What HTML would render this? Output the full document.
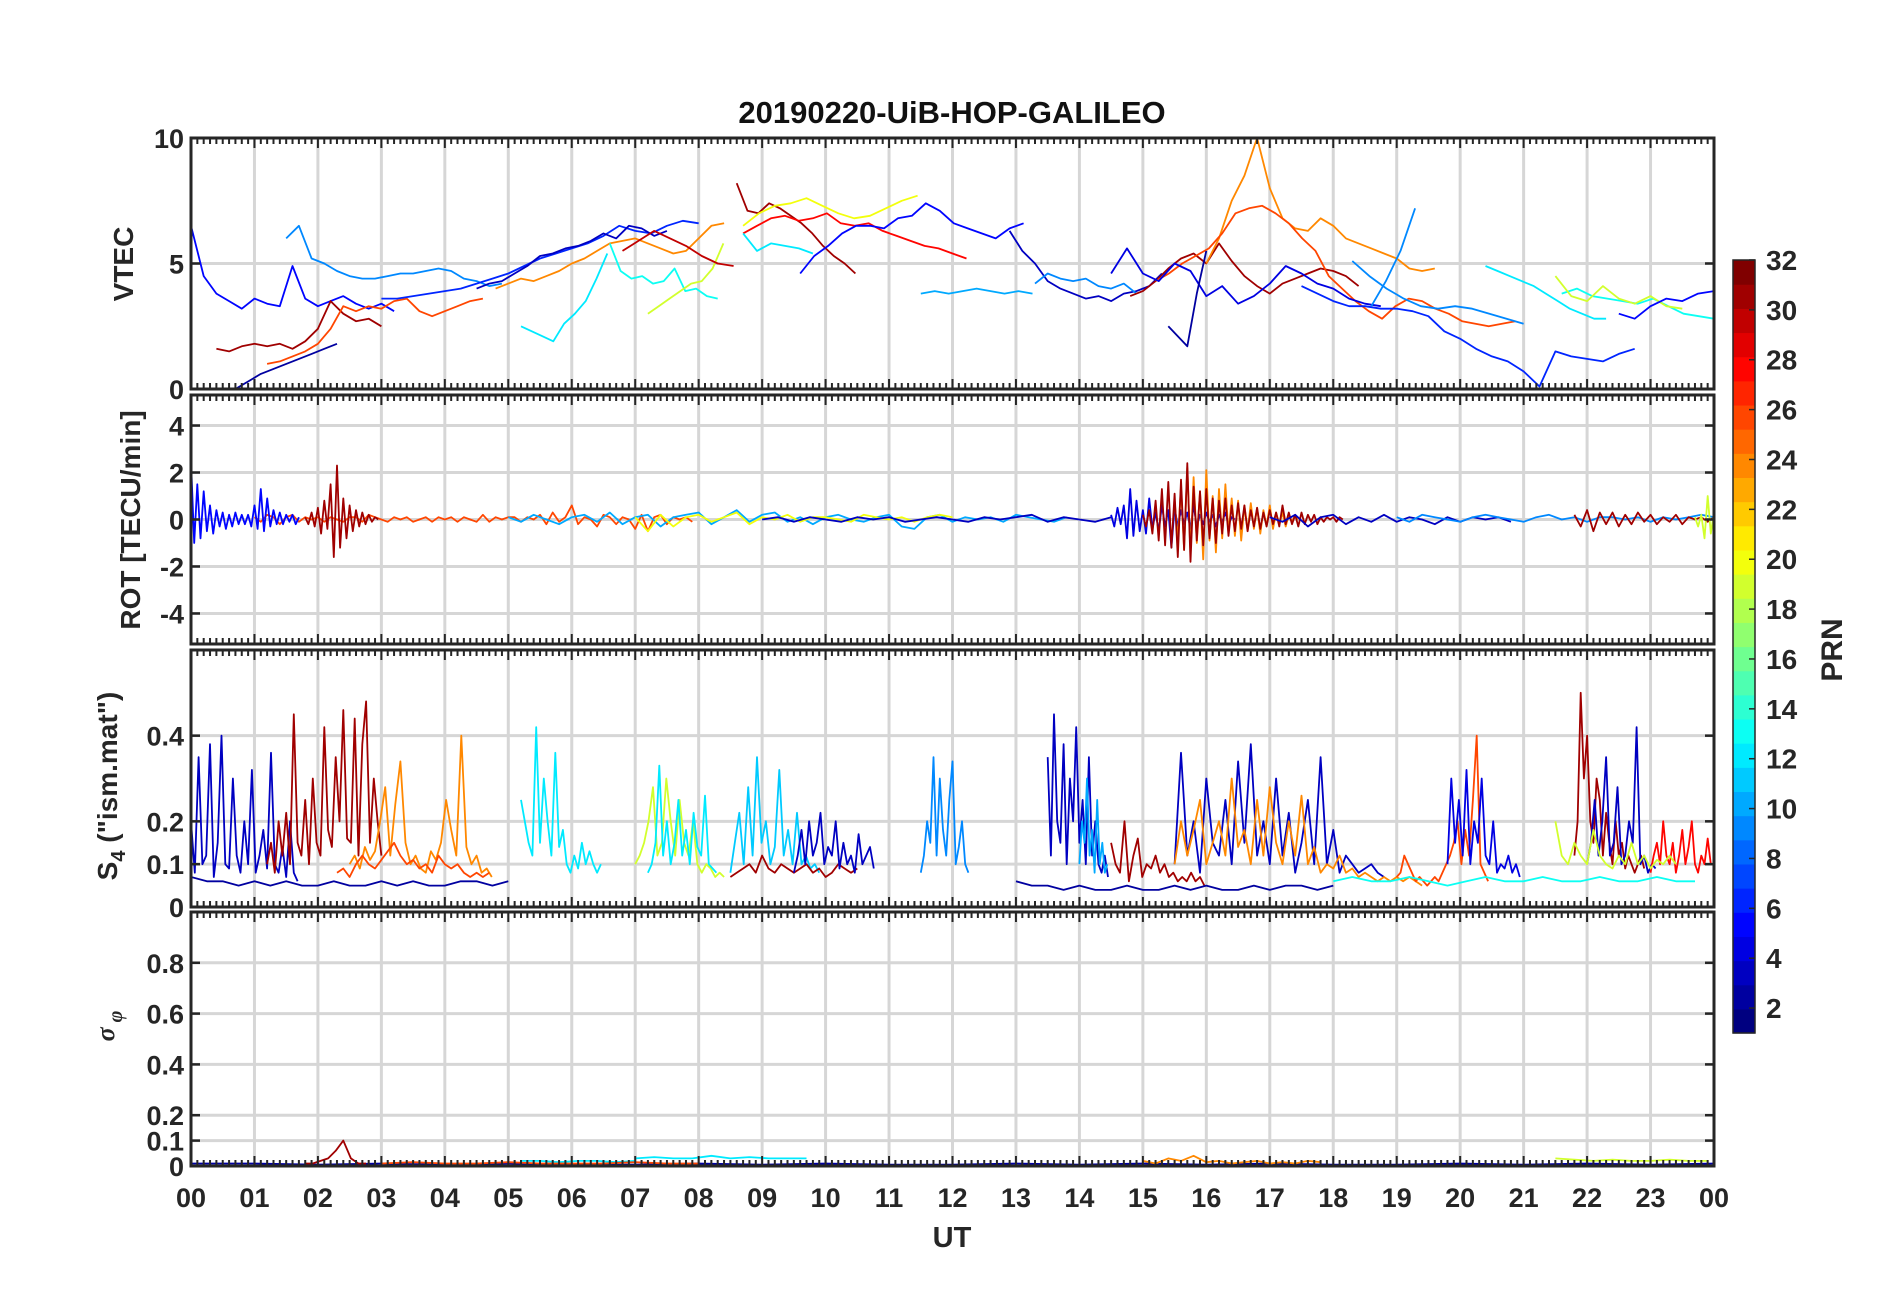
<!DOCTYPE html>
<html><head><meta charset="utf-8"><style>
body{margin:0;background:#fff}
svg text{font-family:"Liberation Sans",Arial,sans-serif;font-weight:bold;fill:#262626}
</style></head><body>
<svg id="fig" width="1902" height="1292" viewBox="0 0 1902 1292" xmlns="http://www.w3.org/2000/svg">
<rect width="1902" height="1292" fill="#fff"/>
<g id="grids"></g><g id="series"></g><g id="frames"></g><g id="labels"></g><g id="cbar"></g>
</svg>
<script>
// ---------- data ----------
const hourTicks=["00","01","02","03","04","05","06","07","08","09","10","11","12","13","14","15","16","17","18","19","20","21","22","23","00"];
const cbarTicks=[2,4,6,8,10,12,14,16,18,20,22,24,26,28,30,32];
const vtecTicks=[0,5,10];
const rotTicks=[-4,-2,0,2,4];
const s4Ticks=[0,0.1,0.2,0.4];
const sigTicks=[0,0.1,0.2,0.4,0.6,0.8];

const vtecPrn=[5,2,9,31,26,6,3,24,12,13,19,30,31,28,20,12,5,3,10,9,31,24,26,4,2,6,9,9,12,13,19,5];
const vtecStart=[0,0.7,1.5,0.4,1.2,3,4.5,4.8,5.2,6.6,7.2,6.8,8.6,8.7,8.7,8.7,9.6,12.9,11.5,13.3,14.8,16,15.2,14.5,15.4,17.5,18.6,18.3,20.4,21.6,21.5,22.5];
const vtecStep=[0.2,0.2,0.2,0.2,0.2,0.25,0.2,0.2,0.17,0.17,0.17,0.25,0.17,0.22,0.25,0.22,0.22,0.2,0.22,0.2,0.2,0.2,0.21,0.25,0.15,0.25,0.23,0.27,0.19,0.24,0.25,0.25];
const vtecVals=[
[6.5,4.5,3.8,3.5,3.2,3.6,3.4,3.3,4.9,3.6,3.3,3.5,3.7,3.4,3.2,3.4,3.1],
[0,0.3,0.6,0.8,1,1.2,1.4,1.6,1.8],
[6,6.5,5.2,5,4.7,4.5,4.4,4.4,4.5,4.6,4.6,4.7,4.8,4.7,4.4,4.3,4.1,4.2],
[1.6,1.5,1.7,1.8,1.7,1.8,1.6,1.9,2.4,3.5,3,2.7,2.8,2.5],
[1,1.1,1.3,1.5,1.8,2.4,3.3,3.1,3.3,3.2,3.5,3.6,3.1,2.9,3.1,3.3,3.5,3.6],
[3.6,3.6,3.7,3.8,3.9,4,4.2,4.4,4.6,4.9,5.2,5.4,5.6,5.8,6.1,6.5,6.3,6.2,6.5,6.7,6.6],
[4,4.2,4.3,4.6,4.9,5.3,5.4,5.6,5.7,5.9,6.2,6.0,6.5,6.4,6.1,6.3],
[4.0,4.2,4.4,4.3,4.5,4.7,5.0,5.2,5.5,5.8,5.9,6.0,5.8,5.6,5.4,5.5,6,6.5,6.6],
[2.5,2.3,2.1,1.9,2.6,3.0,3.5,4.4,5.4],
[5.8,4.7,4.4,4.5,4.2,4.3,4.8,3.9,4.0,3.7,3.6],
[3,3.3,3.6,3.9,4.2,4.3,4.8,5.8],
[5.5,5.9,6.3,6.0,5.7,5.3,5.0,4.9],
[8.2,7.1,7.0,7.4,7.2,6.9,6.6,6.2,5.7,5.3,5.0,4.6],
[6.2,6.5,6.8,6.9,6.7,6.8,7.0,6.6,6.5,6.6,6.3,6.1,5.9,5.7,5.6,5.4,5.2],
[6.5,7.0,7.3,7.4,7.6,7.3,7.0,6.8,6.9,7.2,7.5,7.7],
[6.2,5.5,5.8,5.7,5.6,5.4],
[4.6,5.3,5.7,6.2,6.5,6.5,6.4,6.8,6.9,7.4,7.1,6.6,6.4,6.2,6.0,6.4,6.6],
[6.3,5.5,5.0,4.3,4.0,3.8,3.6,3.7,3.5,3.8,3.9,4.1,4.6],
[3.8,3.9,3.8,3.9,4.0,3.9,3.8,3.9,3.8],
[4.2,4.6,4.4,4.3,4.4,4.1,4.0,4.2,3.8],
[3.7,3.9,4.3,4.8,5.2,5.4,5.0,5.8,5.1,4.5,4.1,3.8,4.2,4.4,4.6,4.8,4.7,4.5,4.1],
[5.0,6.0,7.5,8.5,10,8,6.8,6.4,6.3,6.8,6.5,6.0,5.8,5.6,5.4,5.2,4.8,4.7,4.8],
[4.3,4.6,5.0,5.3,5.6,6.2,7.0,7.2,7.3,7.0,6.6,6.0,5.5,4.5,4.0,3.5,3.1,2.8,3.3,3.6,3.5,3.2,3.0,2.7,2.6,2.5,2.6,2.7],
[4.6,5.6,4.6,4.3,5.0,4.7,3.7,4.1,3.4,3.7,4.2,4.9,4.6,4.2,4.0,3.6,3.4,3.3],
[2.5,2.1,1.7,3.8,5.5],
[4.1,3.8,3.5,3.3,3.3,3.2,3.2,3.1,2.9,2.3,2.0,1.6,1.3,1.1,0.7,0.1,1.5,1.3,1.2,1.1,1.4,1.6],
[3.3,4.3,5.5,7.2],
[5.1,4.5,4.0,3.6,3.3,3.2,3.3,3.2,3.0,2.8,2.6],
[4.9,4.7,4.5,4.3,4.1,3.8,3.5,3.2,3.0,2.8,2.8],
[3.8,4.0,3.7,3.6,3.5,3.4,3.6,3.3,3.0,2.9,2.8],
[4.5,3.7,3.5,4.1,3.6,3.4,3.7,3.3,3.2],
[3.0,2.8,3.3,3.6,3.5,3.8,3.9]];

const rotPrn=[26,10,20,3,5,31,4,24,31,3,9,31,19];
const rotStart=[1,5,7,9,0,1.8,14.5,15.5,15,17,19,21.8,23.7];
const rotStep=[0.1,0.2,0.2,0.25,0.05,0.05,0.05,0.05,0.05,0.2,0.2,0.1,0.05];
const rotVals=[
[0.1,-0.1,0.2,0.1,-0.2,0.1,0.2,-0.1,0.1,0,0.1,-0.1,0.1,0,-0.1,0.1,0.1,-0.1,0.2,0.1,0,-0.1,0.1,0,0.1,-0.1,0,0.1,-0.1,0.1,0,0.1,-0.1,0.1,0,-0.1,0.2,-0.1,0.1,0,0.1,0.1,-0.1,0.1,0,0.2,-0.2,0.3,-0.1,0.1,0.6,-0.2,0.1,0,-0.3,0.2,0.1,-0.2,0.1,0,-0.4,0.2,-0.5,0.1,0.2,-0.2,0.1,0,0.1,-0.1],
[0.1,-0.1,0.2,0,-0.2,0.1,0.2,-0.1,0.3,-0.2,0.1,0.2,-0.3,0.1,0.2,0.3,-0.2,0.1,0.4,-0.1,0.2,0.3,-0.1,0.1,-0.2,0.1,0.2,0,-0.1,0.1,0.2,-0.3,-0.4,0.1,0.2,-0.1,0.1,0,0.1,-0.1,0.2,0.1,0,-0.1,0.1],
[0.1,-0.5,0.2,-0.3,0.1,0.2,-0.1,0.1,0.3,-0.2,0.1,0,0.2,-0.1,0.1,0.1,0,-0.1,0.2,0.1,0,0.1,-0.1,0.1,0.2,0.1],
[0,0.1,-0.1,0.1,0,-0.1,0.1,0,0.1,-0.1,0,0.1,0,-0.1,0.1,0,0.1,0.2,-0.1,0.1,0,-0.1,0.1],
[2.5,-1,1.5,-0.8,1.2,-0.5,0.6,-0.6,0.4,-0.3,0.3,-0.4,0.2,-0.3,0.3,-0.2,0.2,-0.2,0.2,-0.3,0.6,-0.4,1.3,-0.5,0.9,-0.3,0.4,-0.2,0.3,-0.2,0.2,-0.1,0.2,-0.2,0.1],
[0.1,-0.2,0.3,-0.3,0.5,-0.6,0.8,-0.4,1.5,-1.6,2.3,-1.2,0.9,-0.8,0.6,-0.5,0.4,-0.3,0.3,-0.2,0.2,-0.1,0.1,0],
[0.2,-0.3,0.5,-0.2,0.6,-0.8,1.3,-0.7,0.8,-0.5,0.4,-0.6,0.9,-0.4,0.3,-0.5,0.6,-0.3,0.4,-1.2,0.5,-0.3,0.4,-0.2,0.3,-0.4,0.6,-0.3,0.2,-0.2,0.3,-0.1,0.2,-0.3,0.2,-0.1,0.3,-0.2,0.1,0],
[0.8,-0.9,1.4,-1.3,2.2,-1.5,1.8,-1.0,1.2,-1.7,2.1,-0.9,1.0,-1.4,1.3,-0.8,1.5,-0.6,0.9,-0.7,0.8,-0.9,0.6,-0.5,0.7,-0.4,0.5,-0.6,0.4,-0.3,0.6,-0.4,0.3,-0.2,0.3,-0.3,0.2,-0.1,0.2,0],
[0.2,-0.3,0.4,-0.6,0.8,-0.9,1.3,-1.1,1.6,-1.2,1.1,-1.6,1.7,-1.3,2.4,-1.8,1.4,-0.9,1.2,-1.1,1.3,-0.8,0.9,-1.0,0.8,-0.6,0.9,-0.7,0.6,-0.5,0.7,-0.4,0.6,-0.5,0.4,-0.3,0.5,-0.4,0.3,-0.3,0.4,-0.2,0.3,-0.3,0.6,-0.2,0.3,-0.2,0.2,-0.3,0.3,-0.2,0.2,-0.1,0.2,-0.2,0.1,-0.1,0.1,0,0.1,-0.1,0.1,0],
[0.1,-0.1,0.2,-0.3,0.1,0.2,-0.2,0.1,-0.1,0.2,-0.1,0.1,0,-0.2,0.1,-0.1,0.1,0,0.1,-0.1],
[0.1,-0.1,0.2,0.1,0,-0.1,0.1,0.2,0.1,0,-0.1,0.1,0.2,0,0.1,-0.1,0.1,0.1,0,0.1,-0.1,0.1,0,0.1,0.2,0.1],
[0.2,-0.3,0.4,-0.5,0.3,-0.2,0.3,-0.3,0.2,-0.2,0.3,-0.1,0.2,-0.2,0.1,-0.1,0.2,-0.2,0.1,0,0.1,-0.1,0.1],
[0.1,-0.3,0.2,-0.8,1.0,-0.6,0.3,-0.1]];

const s4Prn=[2,3,31,24,26,12,19,12,11,31,3,9,3,10,31,3,24,26,4,2,31,3,28,19,13];
const s4Start=[0,0,1.2,2.5,2.3,5.2,7,7.2,8.5,8.5,9.5,11.5,13.5,14,14.5,15.5,15.5,19,19.8,13,21.8,22,23,21.5,18];
const s4Step=[0.25,0.06,0.06,0.08,0.1,0.06,0.07,0.06,0.07,0.1,0.06,0.05,0.05,0.04,0.07,0.1,0.1,0.06,0.06,0.25,0.05,0.06,0.05,0.1,0.3];
const s4Vals=[
[0.07,0.06,0.06,0.05,0.06,0.05,0.06,0.05,0.05,0.06,0.05,0.05,0.06,0.05,0.06,0.05,0.05,0.06,0.06,0.05,0.06],
[0.2,0.08,0.35,0.1,0.12,0.38,0.07,0.15,0.4,0.1,0.09,0.3,0.12,0.08,0.2,0.1,0.32,0.08,0.12,0.18,0.09,0.36,0.1,0.08,0.14,0.07,0.2,0.08,0.06],
[0.1,0.15,0.08,0.2,0.12,0.22,0.1,0.45,0.15,0.12,0.25,0.1,0.3,0.15,0.12,0.42,0.18,0.14,0.35,0.2,0.46,0.16,0.15,0.44,0.12,0.38,0.48,0.15,0.3,0.2,0.12],
[0.1,0.12,0.09,0.14,0.11,0.13,0.2,0.28,0.12,0.24,0.34,0.15,0.1,0.12,0.09,0.08,0.13,0.11,0.15,0.25,0.18,0.12,0.4,0.14,0.1,0.12,0.08,0.09,0.07],
[0.08,0.09,0.07,0.1,0.12,0.1,0.09,0.11,0.13,0.15,0.12,0.1,0.11,0.09,0.1,0.08,0.12,0.1,0.09,0.1,0.08,0.07,0.08,0.07,0.08],
[0.25,0.2,0.15,0.12,0.42,0.15,0.3,0.2,0.12,0.36,0.14,0.18,0.1,0.08,0.12,0.09,0.15,0.1,0.13,0.1,0.08,0.1],
[0.1,0.12,0.15,0.2,0.28,0.12,0.15,0.3,0.2,0.12,0.25,0.15,0.12,0.2,0.1,0.08,0.1,0.09,0.07,0.08,0.07],
[0.08,0.1,0.15,0.33,0.12,0.2,0.1,0.15,0.25,0.12,0.18,0.1,0.22,0.14,0.12,0.26,0.1,0.09,0.08],
[0.08,0.15,0.22,0.1,0.28,0.12,0.35,0.15,0.2,0.1,0.14,0.32,0.12,0.18,0.1,0.22,0.1,0.12,0.09,0.1,0.08],
[0.07,0.08,0.09,0.1,0.08,0.12,0.09,0.08,0.1,0.09,0.08,0.09,0.1,0.08,0.09,0.07,0.08,0.1,0.09,0.08,0.09],
[0.08,0.12,0.18,0.1,0.2,0.12,0.15,0.22,0.1,0.14,0.12,0.2,0.09,0.15,0.1,0.12,0.08,0.17,0.1,0.12,0.14,0.09],
[0.08,0.12,0.2,0.15,0.35,0.12,0.3,0.18,0.12,0.25,0.34,0.1,0.14,0.2,0.1,0.08],
[0.35,0.12,0.45,0.2,0.15,0.38,0.1,0.3,0.2,0.42,0.15,0.25,0.1,0.35,0.12,0.2,0.1,0.08,0.12,0.07],
[0.1,0.2,0.15,0.3,0.12,0.18,0.08,0.25,0.1,0.15,0.08,0.1],
[0.15,0.1,0.08,0.2,0.06,0.12,0.16,0.07,0.1,0.09,0.12,0.08,0.1,0.07,0.08,0.06,0.07,0.06,0.08,0.06,0.07,0.05],
[0.1,0.36,0.12,0.2,0.08,0.3,0.15,0.12,0.25,0.1,0.34,0.15,0.38,0.12,0.2,0.1,0.3,0.12,0.22,0.08,0.15,0.25,0.1,0.35,0.1,0.18,0.08,0.12,0.1,0.08,0.09,0.1,0.08,0.07],
[0.1,0.2,0.12,0.18,0.25,0.1,0.15,0.2,0.12,0.3,0.14,0.18,0.1,0.25,0.12,0.28,0.15,0.1,0.2,0.12,0.26,0.1,0.14,0.08,0.1,0.09,0.12,0.08,0.09,0.07,0.08,0.07,0.06,0.07,0.06,0.07,0.06,0.07,0.06,0.05],
[0.07,0.08,0.12,0.1,0.08,0.06,0.07,0.06,0.05,0.06,0.07,0.06,0.08,0.1,0.12,0.15,0.2,0.1,0.18,0.12,0.25,0.4,0.1,0.08,0.06],
[0.1,0.3,0.15,0.25,0.12,0.32,0.1,0.2,0.15,0.3,0.12,0.1,0.2,0.08,0.1,0.09,0.12,0.08,0.1,0.07],
[0.06,0.05,0.05,0.04,0.05,0.04,0.04,0.05,0.04,0.04,0.05,0.04,0.05,0.04,0.04,0.05,0.04,0.05,0.05,0.04,0.05],
[0.12,0.2,0.5,0.3,0.4,0.2,0.15,0.3,0.25,0.12,0.22,0.15,0.1,0.2,0.12,0.15,0.09,0.12,0.1,0.08,0.1,0.12,0.09],
[0.1,0.15,0.25,0.12,0.2,0.35,0.12,0.15,0.28,0.1,0.12,0.2,0.15,0.42,0.1,0.12,0.08,0.1,0.09],
[0.08,0.12,0.15,0.1,0.2,0.12,0.1,0.15,0.08,0.12,0.18,0.1,0.14,0.2,0.1,0.08,0.12,0.1,0.16,0.1],
[0.2,0.12,0.1,0.15,0.12,0.1,0.18,0.12,0.1,0.09,0.12,0.1,0.15,0.1,0.12,0.09,0.11,0.1,0.12,0.1],
[0.06,0.07,0.06,0.06,0.07,0.06,0.05,0.06,0.07,0.06,0.06,0.07,0.06,0.06,0.07,0.06,0.06,0.07,0.06,0.06]];

const sigPrn=[2,31,12,19,26,12,24];
const sigStart=[0,1.8,5.2,21.5,3,7,15];
const sigStep=[1,0.12,0.3,0.3,0.5,0.3,0.2];
const sigVals=[
[0.01,0.01,0.005,0.01,0.005,0.01,0.005,0.005,0.01,0.005,0.01,0.005,0.005,0.01,0.005,0.01,0.005,0.01,0.005,0.005,0.01,0.005,0.01,0.005,0.01],
[0.01,0.01,0.02,0.03,0.06,0.1,0.03,0.01,0.01],
[0.02,0.02,0.015,0.02,0.02,0.015,0.02],
[0.03,0.025,0.02,0.025,0.02,0.02,0.025,0.02,0.02],
[0.01,0.015,0.01,0.01,0.015,0.01,0.01,0.01,0.015,0.01,0.01],
[0.03,0.035,0.03,0.03,0.04,0.03,0.035,0.03,0.03,0.03],
[0.02,0.01,0.03,0.02,0.04,0.015,0.02,0.01,0.015,0.02,0.01,0.015,0.01,0.02,0.015]];

// ---------- layout ----------
const L=191,R=1714;
const panels=[
 {name:"vtec",top:138,bot:389,min:0,max:10,ticks:vtecTicks},
 {name:"rot",top:395,bot:644,min:-5.3,max:5.3,ticks:rotTicks},
 {name:"s4",top:650,bot:907,min:0,max:0.6,ticks:s4Ticks},
 {name:"sigma",top:912,bot:1166,min:0,max:1,ticks:sigTicks}];
const X=t=>L+t/24*(R-L);
const Yf=p=>v=>p.bot-(v-p.min)/(p.max-p.min)*(p.bot-p.top);
function jet(p){const t=(p-1)/31;const c=x=>Math.round(255*Math.max(0,Math.min(1,x)));
 return `rgb(${c(1.5-Math.abs(4*t-3))},${c(1.5-Math.abs(4*t-2))},${c(1.5-Math.abs(4*t-1))})`;}
const NS="http://www.w3.org/2000/svg";
function mk(tag,attrs,parent){const e=document.createElementNS(NS,tag);for(const k in attrs)e.setAttribute(k,attrs[k]);parent.appendChild(e);return e;}
const G=document.getElementById('grids'),S=document.getElementById('series'),F=document.getElementById('frames'),LB=document.getElementById('labels'),CB=document.getElementById('cbar');

panels.forEach(p=>{
 const Y=Yf(p);
 const clip=mk('clipPath',{id:'clip-'+p.name},S);mk('rect',{x:L,y:p.top,width:R-L,height:p.bot-p.top},clip);
 for(let h=1;h<24;h++){const g=mk('line',{x1:X(h),x2:X(h),y1:p.top,y2:p.bot,stroke:'#d6d6d6','stroke-width':3},G);
  
  }
 p.ticks.forEach(v=>{const y=Y(v);
  if(v!==p.min){const g=mk('line',{x1:L,x2:R,y1:y,y2:y,stroke:'#d6d6d6','stroke-width':3},G);
   
   }
  mk('line',{x1:L,x2:L+9,y1:y,y2:y,stroke:'#262626','stroke-width':2.5},F);
  mk('line',{x1:R-9,x2:R,y1:y,y2:y,stroke:'#262626','stroke-width':2.5},F);
  const t=mk('text',{x:L-7,y:y+10,'text-anchor':'end','font-size':27},LB);t.textContent=String(v);
  
  });
 for(let m=0;m<=240;m++){const x=X(m/10),len=m%10===0?10:6;
  mk('line',{x1:x,x2:x,y1:p.top,y2:p.top+len,stroke:'#262626','stroke-width':2},F);
  mk('line',{x1:x,x2:x,y1:p.bot,y2:p.bot-len,stroke:'#262626','stroke-width':2},F);}
 const fr=mk('rect',{x:L,y:p.top,width:R-L,height:p.bot-p.top,fill:'none',stroke:'#262626','stroke-width':3},F);
 
 
});

function drawSeries(p,prns,starts,steps,vals,w){
 const Y=Yf(p);const g=mk('g',{'clip-path':`url(#clip-${p.name})`},S);
 prns.forEach((prn,i)=>{const pts=vals[i].map((v,j)=>X(starts[i]+j*steps[i]).toFixed(1)+','+Y(v).toFixed(1)).join(' ');
  const pl=mk('polyline',{points:pts,fill:'none',stroke:jet(prn),'stroke-width':w,'stroke-linejoin':'round'},g);
  
  });
}
drawSeries(panels[0],vtecPrn,vtecStart,vtecStep,vtecVals,1.8);
drawSeries(panels[1],rotPrn,rotStart,rotStep,rotVals,1.8);
drawSeries(panels[2],s4Prn,s4Start,s4Step,s4Vals,1.8);
drawSeries(panels[3],sigPrn,sigStart,sigStep,sigVals,1.8);

hourTicks.forEach((h,i)=>{const t=mk('text',{x:X(i),y:1207,'text-anchor':'middle','font-size':27},LB);t.textContent=h;
 
 });

// colorbar
const cbT=260,cbB=1033,cbL=1733,cbW=22,cmin=1,cmax=32;
const CY=v=>cbB-(v-cmin)/(cmax-cmin)*(cbB-cbT);
for(let k=0;k<32;k++){const v0=cmin+k*(cmax-cmin)/32,v1=cmin+(k+1)*(cmax-cmin)/32;
 const r=mk('rect',{x:cbL,y:CY(v1),width:cbW,height:CY(v0)-CY(v1)+0.6,fill:jet(1+k)},CB);
 
 }
mk('rect',{x:cbL,y:cbT,width:cbW,height:cbB-cbT,fill:'none',stroke:'#262626','stroke-width':1.5},CB);
cbarTicks.forEach(v=>{const y=CY(v);mk('line',{x1:cbL+cbW-6,x2:cbL+cbW,y1:y,y2:y,stroke:'#262626','stroke-width':1.5},CB);
 const t=mk('text',{x:cbL+33,y:y+10,'font-size':28},CB);t.textContent=String(v);
 
 });
</script>
<div style="position:absolute;left:0;top:0;width:1902px;height:1292px;pointer-events:none">
<svg width="1902" height="1292" style="position:absolute;left:0;top:0">
<text x="952" y="123" text-anchor="middle" font-size="31" style="font-family:'Liberation Sans',sans-serif;font-weight:bold;fill:#111">20190220-UiB-HOP-GALILEO</text>
<text transform="translate(133,264) rotate(-90)" text-anchor="middle" font-size="28" style="font-family:'Liberation Sans',sans-serif;font-weight:bold;fill:#262626">VTEC</text>
<text transform="translate(140,520) rotate(-90)" text-anchor="middle" font-size="28" style="font-family:'Liberation Sans',sans-serif;font-weight:bold;fill:#262626">ROT [TECU/min]</text>
<text transform="translate(117,786) rotate(-90)" text-anchor="middle" font-size="28" style="font-family:'Liberation Sans',sans-serif;font-weight:bold;fill:#262626">S<tspan font-size="20" dy="8">4</tspan><tspan dy="-8"> ("ism.mat")</tspan></text>
<text transform="translate(114,1026) rotate(-90)" text-anchor="middle" font-size="26" style="font-family:'Liberation Serif',serif;font-style:italic;fill:#262626">σ<tspan font-size="20" dy="8"> φ</tspan></text>
<text x="952" y="1247" text-anchor="middle" font-size="29" style="font-family:'Liberation Sans',sans-serif;font-weight:bold;fill:#262626">UT</text>
<text transform="translate(1842,650) rotate(-90)" text-anchor="middle" font-size="30" style="font-family:'Liberation Sans',sans-serif;font-weight:bold;fill:#262626">PRN</text>
</svg></div>
</body></html>
